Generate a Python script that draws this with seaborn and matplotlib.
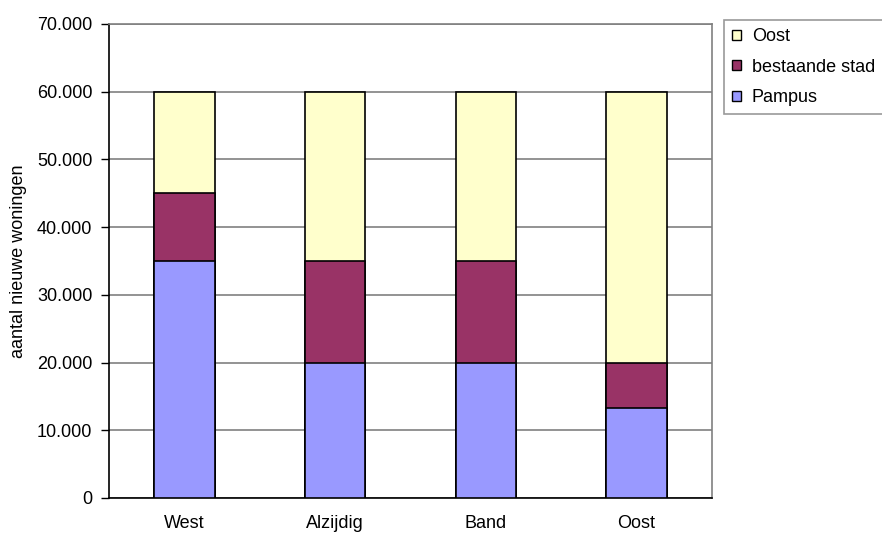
import matplotlib
matplotlib.use("Agg")
import matplotlib.pyplot as plt
import seaborn as sns
import pandas as pd
import numpy as np
from matplotlib.ticker import FuncFormatter
from matplotlib.patches import Patch

categories = ["West", "Alzijdig", "Band", "Oost"]
pampus = [35000, 20000, 20000, 13300]
bestaande_stad = [10000, 15000, 15000, 6700]
oost = [15000, 25000, 25000, 40000]
legend_order = ["Oost", "bestaande stad", "Pampus"]
colors = {"Pampus": "#9999FF", "bestaande stad": "#993366", "Oost": "#FFFFCC"}

sns.set_theme(style="white")
plt.rcParams['font.family'] = ['Liberation Sans', 'DejaVu Sans']
plt.rcParams['text.color'] = 'black'
plt.rcParams['axes.labelcolor'] = 'black'
plt.rcParams['xtick.color'] = 'black'
plt.rcParams['ytick.color'] = 'black'

fig = plt.figure(figsize=(8.82, 5.34), dpi=100)
ax = fig.add_axes([109/882, 1-498/534, (712-109)/882, (498-24)/534])

c1 = np.array(pampus)
c2 = c1 + np.array(bestaande_stad)
c3 = c2 + np.array(oost)
layers = [("Oost", c3), ("bestaande stad", c2), ("Pampus", c1)]
for name, vals in layers:
    df = pd.DataFrame({"cat": categories, "val": vals})
    sns.barplot(data=df, x="cat", y="val", color=colors[name], width=0.4,
                edgecolor="black", linewidth=1.2, saturation=1, ax=ax, zorder=3)

ax.set_ylim(0, 70000)
ax.set_xlim(-0.5, 3.5)
ax.set_yticks(np.arange(0, 70001, 10000))
ax.yaxis.set_major_formatter(FuncFormatter(lambda v, p: f"{int(v):,}".replace(",", ".")))
ax.yaxis.grid(True, color="#808080", linewidth=1.2, zorder=0)
ax.set_axisbelow(True)
ax.set_xticks([0, 1, 2, 3])
ax.set_xticklabels(categories, fontsize=13)
ax.set_xticks([-0.5, 0.5, 1.5, 2.5, 3.5], minor=True)
ax.tick_params(axis="x", which="major", length=0, pad=12, labelcolor="black")
ax.tick_params(axis="x", which="minor", length=5, width=1, color="black", direction="out")
ax.tick_params(axis="y", length=6, width=1, color="black", direction="out",
               labelsize=13, left=True, pad=6, labelcolor="black")
ax.set_xlabel("")
ax.set_ylabel("aantal nieuwe woningen", fontsize=13, labelpad=7, color="black")
for s in ["left", "bottom"]:
    ax.spines[s].set_color("black")
    ax.spines[s].set_linewidth(1.2)
for s in ["top", "right"]:
    ax.spines[s].set_color("#808080")
    ax.spines[s].set_linewidth(1.2)

handles = [Patch(facecolor=colors[n], edgecolor="black", linewidth=1) for n in legend_order]
leg = fig.legend(handles, legend_order, loc="upper left",
                 bbox_to_anchor=(724/882, 1-20/534), frameon=True, fancybox=False,
                 fontsize=13, handlelength=0.5, handleheight=0.5, handletextpad=0.6,
                 borderpad=0.45, labelspacing=0.75, borderaxespad=0)
leg.get_frame().set_edgecolor("#808080")
leg.get_frame().set_linewidth(1.2)
for t in leg.get_texts():
    t.set_color("black")

fig.savefig("out.png", dpi=100)
